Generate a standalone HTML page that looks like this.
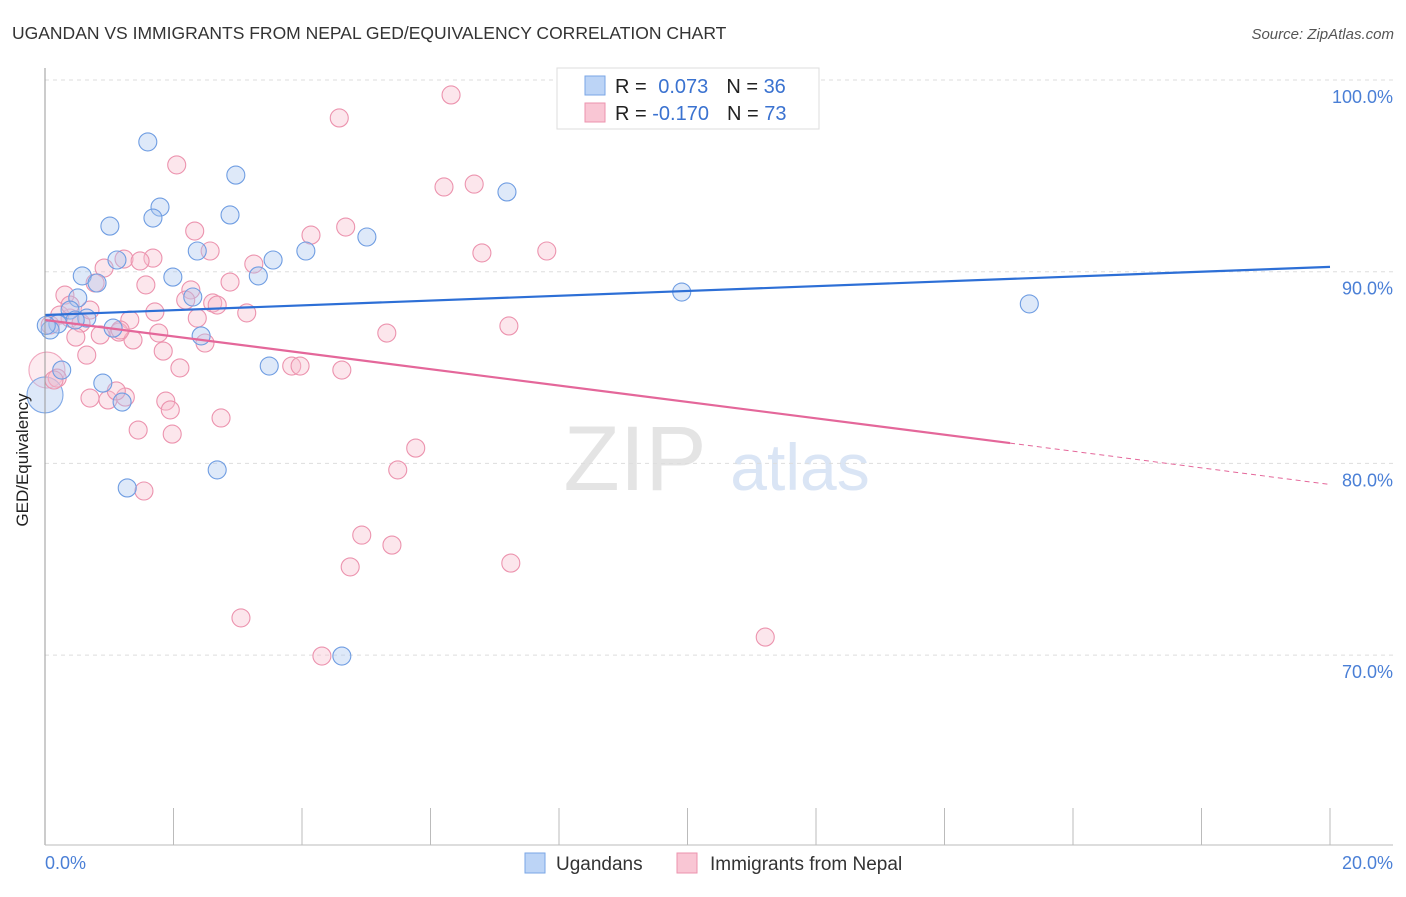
<!DOCTYPE html>
<html><head><meta charset="utf-8"><style>
body{margin:0;background:#fff;font-family:"Liberation Sans",sans-serif}
svg text{font-family:"Liberation Sans",sans-serif}
</style></head><body>
<svg id="c" width="1406" height="892">
<text x="12" y="39" font-size="17.5" fill="#333">UGANDAN VS IMMIGRANTS FROM NEPAL GED/EQUIVALENCY CORRELATION CHART</text>
<text x="1394" y="39" font-size="15" fill="#555" font-style="italic" text-anchor="end">Source: ZipAtlas.com</text>
<text x="635" y="490" font-size="92" fill="#e4e4e4" font-family="Liberation Serif" text-anchor="middle">ZIP</text>
<text x="800" y="490" font-size="66" fill="#dae5f5" text-anchor="middle">atlas</text>
<g id="grid"></g><g id="marks"></g>
<line x1="45" y1="68" x2="45" y2="845" stroke="#999"/>
<line x1="45" y1="845" x2="1393" y2="845" stroke="#bbb"/>
<text x="28" y="460" font-size="17" fill="#222" transform="rotate(-90 28 460)" text-anchor="middle">GED/Equivalency</text>
<text x="45" y="869" font-size="18" fill="#4a7fd6">0.0%</text>
<text x="1393" y="869" font-size="18" fill="#4a7fd6" text-anchor="end">20.0%</text>
<g>
<rect x="557" y="68" width="262" height="61" fill="#fff" stroke="#ddd"/>
<rect x="585" y="76" width="20" height="19" fill="#bcd4f6" stroke="#7aa6e6"/>
<rect x="585" y="103" width="20" height="19" fill="#f9c6d4" stroke="#ec93ae"/>
<text x="615" y="93" font-size="20" fill="#222">R = <tspan fill="#3a72d0" dx="6">0.073</tspan><tspan fill="#222" dx="18">N = </tspan><tspan fill="#3a72d0">36</tspan></text>
<text x="615" y="120" font-size="20" fill="#222">R = <tspan fill="#3a72d0">-0.170</tspan><tspan fill="#222" dx="18">N = </tspan><tspan fill="#3a72d0">73</tspan></text>
</g>
<g>
<rect x="525" y="853" width="20" height="20" fill="#bcd4f6" stroke="#7aa6e6"/>
<text x="556" y="870" font-size="19" fill="#333">Ugandans</text>
<rect x="677" y="853" width="20" height="20" fill="#f9c6d4" stroke="#ec93ae"/>
<text x="710" y="870" font-size="19" fill="#333">Immigrants from Nepal</text>
</g>
</svg>
<script>
const yTicks=[100,90,80,70];
const xTickCount=10;
const blueX=[1.60,2.97,1.79,1.68,2.88,1.01,7.19,5.01,4.06,2.37,3.55,1.12,3.32,1.99,0.58,0.81,0.51,2.30,9.91,15.32,0.65,0.20,1.06,2.43,0.26,3.49,0.90,1.20,2.68,1.28,4.62,0.08,0.39,0.47,0.02];
const blueY=[96.77,95.04,93.37,92.80,92.96,92.38,94.16,91.81,91.08,91.08,90.61,90.61,89.78,89.72,89.78,89.41,88.63,88.68,88.94,88.32,87.58,87.27,87.06,86.65,84.87,85.08,84.19,83.20,79.66,78.72,69.95,86.96,88.00,87.48,87.2];
const blueBigX=[0.0],blueBigY=[83.57];
const pinkX=[6.32,4.58,2.05,6.21,6.68,2.33,4.68,4.14,2.57,6.80,7.81,1.23,1.68,0.92,1.48,3.25,2.88,1.57,0.31,0.78,2.27,2.19,2.61,2.68,1.71,3.14,2.37,0.39,1.32,0.56,1.15,7.22,5.32,1.77,2.49,1.37,0.48,1.84,0.65,2.10,3.84,3.97,4.62,0.19,0.70,0.98,1.25,1.11,1.88,1.95,2.74,1.45,1.98,5.77,5.49,1.54,4.93,5.40,4.75,7.25,3.05,4.31,11.21,0.08,0.23,0.39,0.86,1.17,0.70,0.14];
const pinkY=[99.22,98.02,95.57,94.42,94.57,92.12,92.33,91.91,91.08,90.98,91.08,90.66,90.71,90.19,90.56,90.40,89.46,89.31,88.78,89.41,89.05,88.52,88.37,88.26,87.90,87.85,87.58,87.58,87.48,87.32,86.85,87.17,86.80,86.80,86.28,86.44,86.59,85.86,85.65,84.98,85.08,85.08,84.87,84.45,83.41,83.31,83.46,83.78,83.25,82.79,82.37,81.74,81.53,80.80,79.66,78.56,76.26,75.74,74.60,74.80,71.94,69.95,70.94,87.22,87.74,88.26,86.70,86.96,88.00,84.35];
const pinkBigX=[0.03],pinkBigY=[84.87];
const blueTrendX=[0,20],blueTrendY=[87.74,90.25];
const pinkTrendX=[0,15.02,20],pinkTrendY=[87.48,81.06,78.9];
const X=v=>45+v*64.25, Y=v=>80+(100-v)*19.17;
const NS='http://www.w3.org/2000/svg';
const grid=document.getElementById('grid'),marks=document.getElementById('marks');
function mk(tag,attrs,parent){const e=document.createElementNS(NS,tag);for(const k in attrs)e.setAttribute(k,attrs[k]);parent.appendChild(e);return e;}
yTicks.forEach(t=>{
 const l=mk('line',{x1:45,x2:1393,y1:Y(t),y2:Y(t),stroke:'#ddd','stroke-dasharray':'4 4'},grid);
 
 
 const tx=mk('text',{x:1393,y:Y(t)+23,'font-size':18,fill:'#4a7fd6','text-anchor':'end'},grid);
 tx.textContent=t.toFixed(1)+'%';
 
 
});
for(let i=0;i<=xTickCount;i++){
 const l=mk('line',{x1:X(i*2),x2:X(i*2),y1:808,y2:845,stroke:'#bbb'},grid);
 
 
}
function pts(xs,ys,r,fill,stroke,op,name){xs.forEach((x,i)=>{
 const c=mk('circle',{cx:X(x),cy:Y(ys[i]),r:r,fill:fill,'fill-opacity':op,stroke:stroke,'stroke-width':1.1},marks);
 
 
});}
pts(pinkBigX,pinkBigY,18,'#f7bccd','#f0a8bf',0.3,'nepal-point');
pts(blueBigX,blueBigY,18,'#a9c6f0','#7fa8e6',0.4,'ugandan-point');
pts(pinkX,pinkY,9,'#f7bccd','#ec93ae',0.38,'nepal-point');
pts(blueX,blueY,9,'#a9c6f0','#6f9de2',0.38,'ugandan-point');
const bt=mk('line',{x1:X(blueTrendX[0]),y1:Y(blueTrendY[0]),x2:X(blueTrendX[1]),y2:Y(blueTrendY[1]),stroke:'#2d6fd6','stroke-width':2.2},marks);


const pt=mk('line',{x1:X(pinkTrendX[0]),y1:Y(pinkTrendY[0]),x2:X(pinkTrendX[1]),y2:Y(pinkTrendY[1]),stroke:'#e4679a','stroke-width':2.2},marks);


const pd=mk('line',{x1:X(pinkTrendX[1]),y1:Y(pinkTrendY[1]),x2:X(pinkTrendX[2]),y2:Y(pinkTrendY[2]),stroke:'#e4679a','stroke-width':1,'stroke-dasharray':'5 4'},marks);


</script>
</body></html>
